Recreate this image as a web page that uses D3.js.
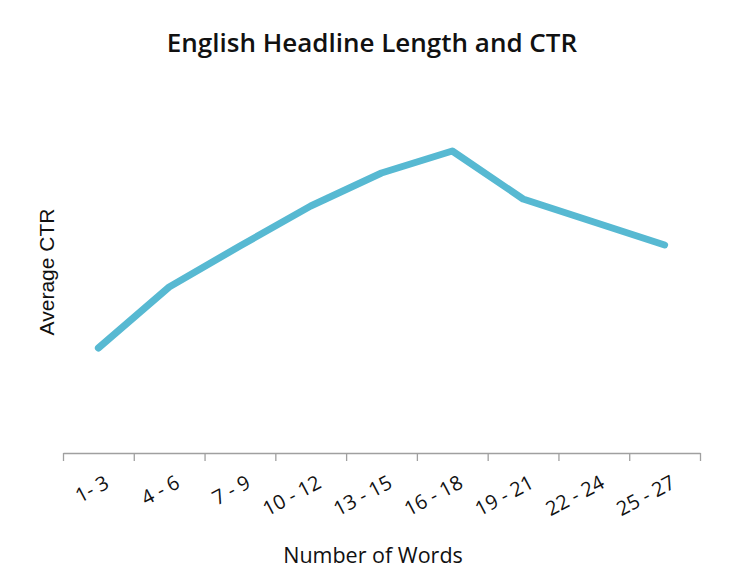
<!DOCTYPE html>
<html><head><meta charset="utf-8">
<script src="https://cdn.jsdelivr.net/npm/d3@7"></script>
<style>body{margin:0;background:#fff}svg{display:block}</style>
</head><body><svg id="c" width="742" height="574"></svg>
<script>
const categories = ["1- 3","4 - 6","7 - 9","10 - 12","13 - 15","16 - 18","19 - 21","22 - 24","25 - 27"];
const ctr = [1.05, 1.66, 2.07, 2.47, 2.80, 3.02, 2.54, 2.31, 2.08];
const title = "English Headline Length and CTR";
const xTitle = "Number of Words";
const yTitle = "Average CTR";

const svg = d3.select("#c");
const mLeft = 63, mRight = 700, mBase = 453, mTop = 103;
const x = d3.scaleBand().domain(categories).range([mLeft, mRight]);
const xb = d3.scaleLinear().domain([0, categories.length]).range([mLeft, mRight]);
const y = d3.scaleLinear().domain([0, 3.5]).range([mBase, mTop]);

const ax = svg.append("g").attr("transform", `translate(0,${mBase})`)
  .call(d3.axisBottom(xb).tickValues(d3.range(categories.length + 1)).tickFormat("").tickSize(8).tickSizeOuter(0));
ax.selectAll("path,line").attr("stroke", "#a0a0a0").attr("stroke-width", 1.3);

svg.append("g").selectAll("text").data(categories).join("text")
  .attr("transform", d => `translate(${x(d) + x.bandwidth()/2 + 12},${487}) rotate(-28)`)
  .attr("text-anchor", "end")
  .attr("font-family", "Open Sans").attr("font-size", 20).attr("fill", "#111")
  .text(d => d);

svg.append("path").datum(ctr)
  .attr("fill", "none").attr("stroke", "#57b9d2").attr("stroke-width", 7)
  .attr("stroke-linecap", "round").attr("stroke-linejoin", "round")
  .attr("d", d3.line().x((d, i) => x(categories[i]) + x.bandwidth()/2).y(d => y(d)));

svg.append("text").attr("x", 372).attr("y", 52).attr("text-anchor", "middle")
  .attr("font-family", "Open Sans").attr("font-weight", 600).attr("font-size", 26).attr("fill", "#111")
  .text(title);
svg.append("text").attr("x", 373).attr("y", 563).attr("text-anchor", "middle")
  .attr("font-family", "Open Sans").attr("font-size", 21.5).attr("fill", "#111")
  .text(xTitle);
svg.append("text").attr("transform", "translate(54,272) rotate(-90)").attr("text-anchor", "middle")
  .attr("font-family", "Liberation Sans").attr("font-size", 21).attr("fill", "#111")
  .text(yTitle);
</script></body></html>
